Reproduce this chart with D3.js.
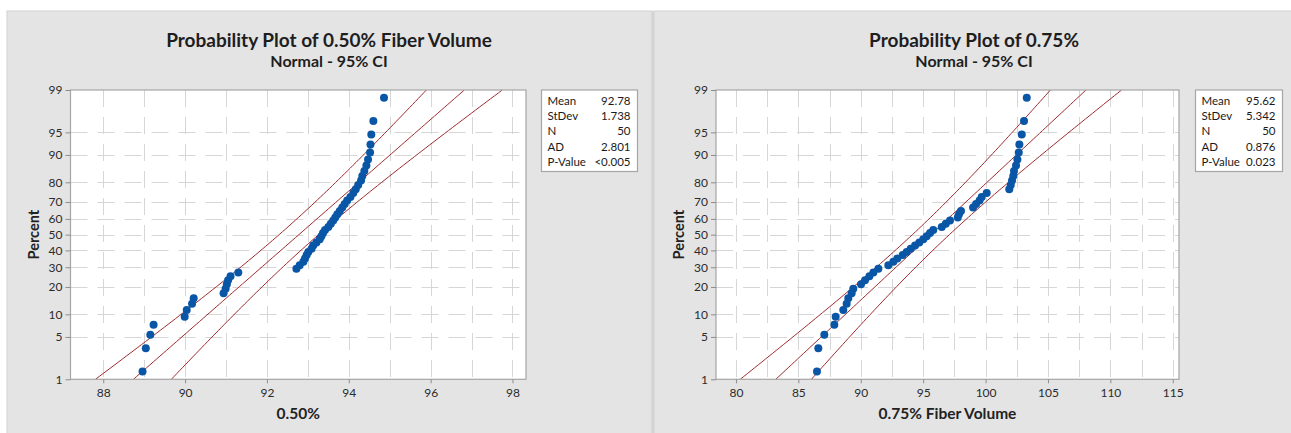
<!DOCTYPE html>
<html>
<head>
<meta charset="utf-8">
<script src="https://cdn.jsdelivr.net/npm/d3@7"></script>
<style>
  html, body { margin: 0; padding: 0; background: #ffffff; }
  svg { display: block; font-family: Lato, "Open Sans", sans-serif; }
</style>
</head>
<body>
<svg id="chart" width="1291" height="433"></svg>
<script>
// Percent ticks on the normal-probability axis
const percentTicks = [1, 5, 10, 20, 30, 40, 50, 60, 70, 80, 90, 95, 99];

// 0.50% fiber volume sample (sorted)
const fiber050 = [
  88.96, 89.04, 89.15, 89.23, 89.99, 90.04, 90.17, 90.21, 90.94, 90.99,
  91.02, 91.05, 91.11, 91.30, 92.72, 92.80, 92.89, 92.93, 92.97, 93.01,
  93.09, 93.13, 93.21, 93.29, 93.33, 93.37, 93.42, 93.50, 93.56, 93.62,
  93.67, 93.72, 93.78, 93.84, 93.90, 93.96, 94.04, 94.11, 94.17, 94.23,
  94.30, 94.33, 94.38, 94.43, 94.47, 94.52, 94.53, 94.55, 94.60, 94.86
];

// 0.75% fiber volume sample (sorted)
const fiber075 = [
  86.49, 86.60, 87.08, 87.88, 87.99, 88.60, 88.87, 89.00, 89.27, 89.40,
  90.02, 90.34, 90.69, 91.01, 91.41, 92.21, 92.61, 92.93, 93.36, 93.68,
  94.00, 94.35, 94.69, 95.01, 95.28, 95.55, 95.81, 96.49, 96.81, 97.15,
  97.77, 97.87, 98.03, 99.00, 99.24, 99.52, 99.69, 100.09, 101.90, 102.02,
  102.12, 102.22, 102.28, 102.44, 102.55, 102.66, 102.71, 102.90, 103.08, 103.30
];

// Fitted normal parameters
const mean050 = 92.78, sd050 = 1.738;
const mean075 = 95.62, sd075 = 5.342;

// Summary table
const statLabels = ["Mean", "StDev", "N", "AD", "P-Value"];
const stats050 = ["92.78", "1.738", "50", "2.801", "<0.005"];
const stats075 = ["95.62", "5.342", "50", "0.876", "0.023"];

// Axis ticks and gridline positions
const xTicks050 = [88, 90, 92, 94, 96, 98];
const xGrid050 = [88, 89, 90, 91, 92, 93, 94, 95, 96, 97, 98];
const xTicks075 = [80, 85, 90, 95, 100, 105, 110, 115];
const xGrid075 = [80, 82.5, 85, 87.5, 90, 92.5, 95, 97.5, 100, 102.5, 105, 107.5, 110, 112.5, 115];

const titles = ["Probability Plot of 0.50% Fiber Volume", "Probability Plot of 0.75%"];
const subtitle = "Normal - 95% CI";
const xLabels = ["0.50%", "0.75% Fiber Volume"];
const yLabel = "Percent";

// Inverse standard normal CDF (Acklam's rational approximation)
function probit(p) {
  const a = [-3.969683028665376e+01, 2.209460984245205e+02, -2.759285104469687e+02,
             1.383577518672690e+02, -3.066479806614716e+01, 2.506628277459239e+00];
  const b = [-5.447609879822406e+01, 1.615858368580409e+02, -1.556989798598866e+02,
             6.680131188771972e+01, -1.328068155288572e+01];
  const c = [-7.784894002430293e-03, -3.223964580411365e-01, -2.400758277161838e+00,
             -2.549671010115819e+00, 4.374664141464968e+00, 2.938163982698783e+00];
  const d = [7.784695709041462e-03, 3.224671290700398e-01, 2.445134137142996e+00,
             3.754408661907416e+00];
  const pl = 0.02425, ph = 1 - pl;
  let q, r;
  if (p < pl) {
    q = Math.sqrt(-2 * Math.log(p));
    return (((((c[0]*q+c[1])*q+c[2])*q+c[3])*q+c[4])*q+c[5]) / ((((d[0]*q+d[1])*q+d[2])*q+d[3])*q+1);
  }
  if (p <= ph) {
    q = p - 0.5; r = q * q;
    return (((((a[0]*r+a[1])*r+a[2])*r+a[3])*r+a[4])*r+a[5])*q / (((((b[0]*r+b[1])*r+b[2])*r+b[3])*r+b[4])*r+1);
  }
  q = Math.sqrt(-2 * Math.log(1 - p));
  return -(((((c[0]*q+c[1])*q+c[2])*q+c[3])*q+c[4])*q+c[5]) / ((((d[0]*q+d[1])*q+d[2])*q+d[3])*q+1);
}

const svg = d3.select("#chart");

// Panel backgrounds
svg.append("rect").attr("x", 7).attr("y", 11).attr("width", 645).attr("height", 430)
  .attr("fill", "#e4e4e4").attr("stroke", "#d2d2d2").attr("stroke-width", 1);
svg.append("rect").attr("x", 654).attr("y", 11).attr("width", 640).attr("height", 430)
  .attr("fill", "#e4e4e4").attr("stroke", "#d2d2d2").attr("stroke-width", 1);
svg.append("rect").attr("x", 651.5).attr("y", 11).attr("width", 2.5).attr("height", 430)
  .attr("fill", "#d4d4d4");

function drawPanel(cfg) {
  const g = svg.append("g");
  const { left, right, top, bottom } = cfg.plot;
  const zMax = probit(0.99);

  const x = d3.scaleLinear().domain(cfg.xDomain).range([left, right]);
  const y = d3.scaleLinear().domain([-zMax, zMax]).range([bottom, top]);
  const yP = p => y(probit(p / 100));

  // Titles
  g.append("text").attr("x", cfg.cx).attr("y", 47)
    .attr("text-anchor", "middle").attr("font-size", 19).attr("font-weight", 700)
    .attr("fill", "#1e1e1e").text(cfg.title);
  g.append("text").attr("x", cfg.cx).attr("y", 67)
    .attr("text-anchor", "middle").attr("font-size", 16).attr("font-weight", 700)
    .attr("fill", "#1e1e1e").text(subtitle);

  // Plot area
  g.append("rect").attr("x", left).attr("y", top)
    .attr("width", right - left).attr("height", bottom - top)
    .attr("fill", "#ffffff");

  const clipId = "clip-" + cfg.id;
  svg.append("clipPath").attr("id", clipId).append("rect")
    .attr("x", left).attr("y", top).attr("width", right - left).attr("height", bottom - top);

  // Dashed grid
  const grid = g.append("g").attr("clip-path", `url(#${clipId})`)
    .attr("stroke", "#d6d6d6").attr("stroke-width", 1).attr("stroke-dasharray", "17,10");
  grid.selectAll("line.v").data(cfg.xGrid).join("line").attr("class", "v")
    .attr("x1", d => Math.round(x(d)) + 0.5).attr("x2", d => Math.round(x(d)) + 0.5)
    .attr("y1", top).attr("y2", bottom);
  grid.selectAll("line.h").data(percentTicks.slice(1, -1)).join("line").attr("class", "h")
    .attr("y1", d => Math.round(yP(d)) + 0.5).attr("y2", d => Math.round(yP(d)) + 0.5)
    .attr("x1", left).attr("x2", right);

  // Fitted line and 95% confidence bounds
  const n = cfg.data.length;
  const zs = d3.range(0, 101).map(i => -zMax + (2 * zMax) * i / 100);
  const fit = z => cfg.mean + cfg.sd * z;
  const half = z => 1.959964 * cfg.sd * Math.sqrt(1 / n + z * z / (2 * n));
  const line = d3.line().x(d => x(d[0])).y(d => y(d[1]));
  const lines = g.append("g").attr("clip-path", `url(#${clipId})`)
    .attr("fill", "none").attr("stroke", "#9e2a2d").attr("stroke-width", 1);
  lines.append("path").attr("d", line(zs.map(z => [fit(z), z])));
  lines.append("path").attr("d", line(zs.map(z => [fit(z) - half(z), z])));
  lines.append("path").attr("d", line(zs.map(z => [fit(z) + half(z), z])));

  // Observations at median-rank plotting positions
  g.append("g").attr("fill", "#0a56a6")
    .selectAll("circle").data(cfg.data).join("circle")
    .attr("cx", d => x(d))
    .attr("cy", (d, i) => y(probit((i + 1 - 0.3) / (n + 0.4))))
    .attr("r", 4);

  // Frame
  g.append("rect").attr("x", left).attr("y", top)
    .attr("width", right - left).attr("height", bottom - top)
    .attr("fill", "none").attr("stroke", "#a6a6a6").attr("stroke-width", 1.2);

  // Axes
  const ya = g.append("g").attr("transform", `translate(${left},0)`);
  ya.call(d3.axisLeft(y).tickValues(percentTicks.map(p => probit(p / 100)))
    .tickFormat((d, i) => percentTicks[i]).tickSize(5).tickPadding(3));
  const xa = g.append("g").attr("transform", `translate(0,${bottom})`);
  xa.call(d3.axisBottom(x).tickValues(cfg.xTicks).tickSize(4).tickPadding(5));
  [ya, xa].forEach(a => {
    a.select(".domain").remove();
    a.selectAll(".tick line").attr("stroke", "#8c8c8c");
    a.selectAll(".tick text").attr("font-size", 12).attr("fill", "#2b2b2b")
      .attr("font-family", "Lato, 'Open Sans', sans-serif");
  });

  // Axis titles
  g.append("text").attr("x", (left + right) / 2).attr("y", 419)
    .attr("text-anchor", "middle").attr("font-size", 15.5).attr("font-weight", 700)
    .attr("fill", "#222").text(cfg.xLabel);
  g.append("text")
    .attr("transform", `translate(${cfg.yLabelX},${(top + bottom) / 2}) rotate(-90)`)
    .attr("text-anchor", "middle").attr("font-size", 14.5).attr("font-weight", 700)
    .attr("fill", "#222").text(yLabel);

  // Summary box
  const bx = cfg.box;
  g.append("rect").attr("x", bx.x).attr("y", bx.y).attr("width", bx.w).attr("height", bx.h)
    .attr("fill", "#ffffff").attr("stroke", "#a6a6a6").attr("stroke-width", 1.2);
  const rows = g.append("g").attr("font-size", 11.5).attr("fill", "#1a1a1a");
  rows.selectAll("text.lab").data(statLabels).join("text").attr("class", "lab")
    .attr("x", bx.x + 6).attr("y", (d, i) => bx.y + 15 + i * 15.2).text(d => d);
  rows.selectAll("text.val").data(cfg.stats).join("text").attr("class", "val")
    .attr("text-anchor", "end")
    .attr("x", bx.x + bx.w - 7).attr("y", (d, i) => bx.y + 15 + i * 15.2).text(d => d);
}

drawPanel({
  id: "a", title: titles[0], xLabel: xLabels[0], cx: 329,
  plot: { left: 70.5, right: 526, top: 90, bottom: 379.3 },
  xDomain: [87.2, 98.33], xTicks: xTicks050, xGrid: xGrid050,
  data: fiber050, mean: mean050, sd: sd050, stats: stats050,
  yLabelX: 39, box: { x: 541.5, y: 90, w: 96, h: 81.5 }
});

drawPanel({
  id: "b", title: titles[1], xLabel: xLabels[1], cx: 974,
  plot: { left: 716, right: 1179, top: 90, bottom: 379.3 },
  xDomain: [78.4, 115.5], xTicks: xTicks075, xGrid: xGrid075,
  data: fiber075, mean: mean075, sd: sd075, stats: stats075,
  yLabelX: 684, box: { x: 1195.5, y: 90, w: 87, h: 81.5 }
});
</script>
</body>
</html>
